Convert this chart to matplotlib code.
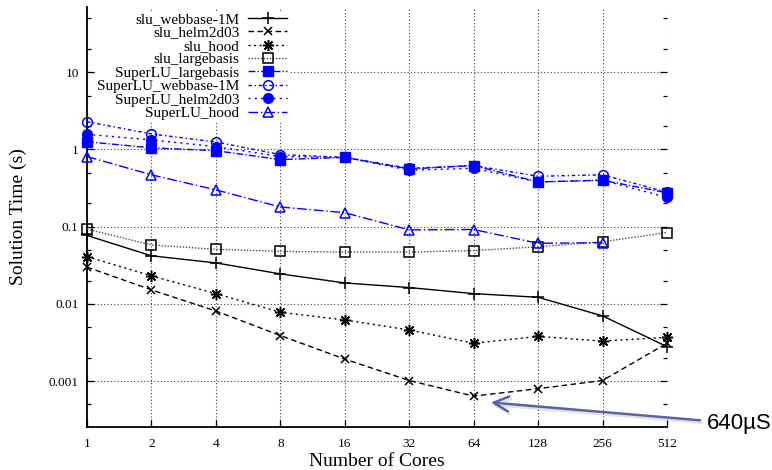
#!/usr/bin/env python3
import matplotlib
matplotlib.use("Agg")
import matplotlib.pyplot as plt
import matplotlib.patheffects as pe
from matplotlib.ticker import FixedLocator, FixedFormatter, LogLocator, NullFormatter

plt.rcParams["font.family"] = ["Liberation Serif", "DejaVu Serif"]

# Number of cores (x axis)
cores = [1, 2, 4, 8, 16, 32, 64, 128, 256, 512]

# Solution time in seconds
slu_webbase = [0.077, 0.042, 0.034, 0.0245, 0.0187, 0.0163, 0.0136, 0.0122, 0.0070, 0.0028]
slu_helm2d03 = [0.030, 0.0152, 0.0081, 0.0039, 0.00193, 0.00102, 0.00064, 0.00080, 0.00102, 0.0031]
slu_hood = [0.041, 0.0231, 0.0136, 0.0078, 0.0062, 0.0046, 0.0031, 0.0038, 0.0033, 0.0037]
slu_largebasis = [0.093, 0.058, 0.051, 0.048, 0.047, 0.047, 0.049, 0.055, 0.064, 0.084]
superlu_largebasis = [1.26, 1.05, 0.965, 0.74, 0.79, 0.56, 0.62, 0.38, 0.40, 0.275]
superlu_webbase = [2.29, 1.59, 1.25, 0.86, 0.79, 0.57, 0.62, 0.45, 0.47, 0.28]
superlu_helm2d03 = [1.57, 1.33, 1.09, 0.81, 0.79, 0.54, 0.57, 0.38, 0.40, 0.24]
superlu_hood = [0.81, 0.47, 0.30, 0.18, 0.152, 0.091, 0.092, 0.061, 0.062]

ytick_vals = [0.001, 0.01, 0.1, 1, 10]
ytick_labels = ["0.001", "0.01", "0.1", "1", "10"]

BLUE = "#0000ff"

fig = plt.figure(figsize=(7.72, 4.70), dpi=100)
ax = fig.add_axes([87 / 772, 43 / 470, 580 / 772, 420 / 470])

series = [
    ("slu_webbase-1M", cores, slu_webbase,
     dict(color="black", ls="-", marker="+", ms=8, mew=1.1)),
    ("slu_helm2d03", cores, slu_helm2d03,
     dict(color="black", ls=(0, (4, 2.5)), marker="x", ms=6, mew=1.1)),
    ("slu_hood", cores, slu_hood,
     dict(color="black", ls=(0, (1.5, 2.5)), marker=(8, 2, 0), ms=8, mew=1.1)),
    ("slu_largebasis", cores, slu_largebasis,
     dict(color="0.3", ls=(0, (1, 1.2)), marker="s", ms=7, mfc="none", mec="black", mew=1.1)),
    ("SuperLU_largebasis", cores, superlu_largebasis,
     dict(color=BLUE, ls=(0, (5, 1.5, 1, 1.5)), marker="s", ms=7)),
    ("SuperLU_webbase-1M", cores, superlu_webbase,
     dict(color=BLUE, ls=(0, (2.5, 2, 1, 2)), marker="o", ms=7, mfc="none", mew=1.1)),
    ("SuperLU_helm2d03", cores, superlu_helm2d03,
     dict(color=BLUE, ls=(0, (1.5, 3)), marker="o", ms=7)),
    ("SuperLU_hood", cores[:len(superlu_hood)], superlu_hood,
     dict(color=BLUE, ls=(0, (7, 2, 1, 2)), marker="^", ms=7, mfc="none", mew=1.1)),
]

for label, x, y, style in series:
    ax.plot(x, y, label=label, lw=1.0, clip_on=False, zorder=3, **style)

ax.set_xscale("log", base=2)
ax.set_yscale("log")
ax.set_xlim(1, 512)
ax.set_ylim(2.55e-4, 70)

ax.xaxis.set_major_locator(FixedLocator(cores))
ax.xaxis.set_major_formatter(FixedFormatter([str(c) for c in cores]))
ax.xaxis.set_minor_locator(FixedLocator([]))
ax.yaxis.set_major_locator(FixedLocator(ytick_vals))
ax.yaxis.set_major_formatter(FixedFormatter(ytick_labels))
ax.yaxis.set_minor_locator(LogLocator(base=10, subs=(2, 5)))
ax.yaxis.set_minor_formatter(NullFormatter())

ax.tick_params(which="both", direction="in", labelsize=9.5, right=True, top=False,
               width=0.9, colors="black")
ax.tick_params(which="major", length=5, pad=6)
ax.tick_params(which="minor", length=3)
ax.tick_params(axis="x", pad=8)

for side in ("top", "right"):
    ax.spines[side].set_visible(False)
for side in ("left", "bottom"):
    ax.spines[side].set_linewidth(1.3)

ax.grid(True, which="major", ls=(0, (1, 2)), color="0.25", lw=0.8, zorder=0)

ax.set_xlabel("Number of Cores", fontsize=14)
ax.set_ylabel("Solution Time (s)", fontsize=14)
ax.xaxis.set_label_coords(0.5, -0.062)
ax.yaxis.set_label_coords(-0.103, 0.5)

leg = ax.legend(loc="upper right", bbox_to_anchor=(289 / 772, 1 - 11 / 470),
                bbox_transform=fig.transFigure, markerfirst=False, fontsize=11,
                labelspacing=-0.02, handlelength=2.6, handletextpad=0.55,
                borderpad=0.1, borderaxespad=0, frameon=True, fancybox=False,
                facecolor="white", edgecolor="none", framealpha=1.0)
leg.set_zorder(5)

# arrow pointing at the 64-core minimum of slu_helm2d03
ann = ax.annotate("640µS", xy=(77, 5.3e-4), xycoords="data",
                  xytext=(707 / 772, 1 - 423 / 470), textcoords="figure fraction",
                  ha="left", va="center", fontsize=16,
                  family=["Liberation Sans", "DejaVu Sans"],
                  annotation_clip=False,
                  arrowprops=dict(arrowstyle="->,head_length=0.9,head_width=0.45",
                                  color="#5b63a3", lw=1.8, shrinkA=3, shrinkB=0,
                                  relpos=(0, 0.6), mutation_scale=12))
ann.arrow_patch.set_path_effects([
    pe.SimpleLineShadow(offset=(1.2, -1.8), shadow_color="0.55", alpha=0.25),
    pe.Normal(),
])

fig.savefig("out.png", dpi=100)
